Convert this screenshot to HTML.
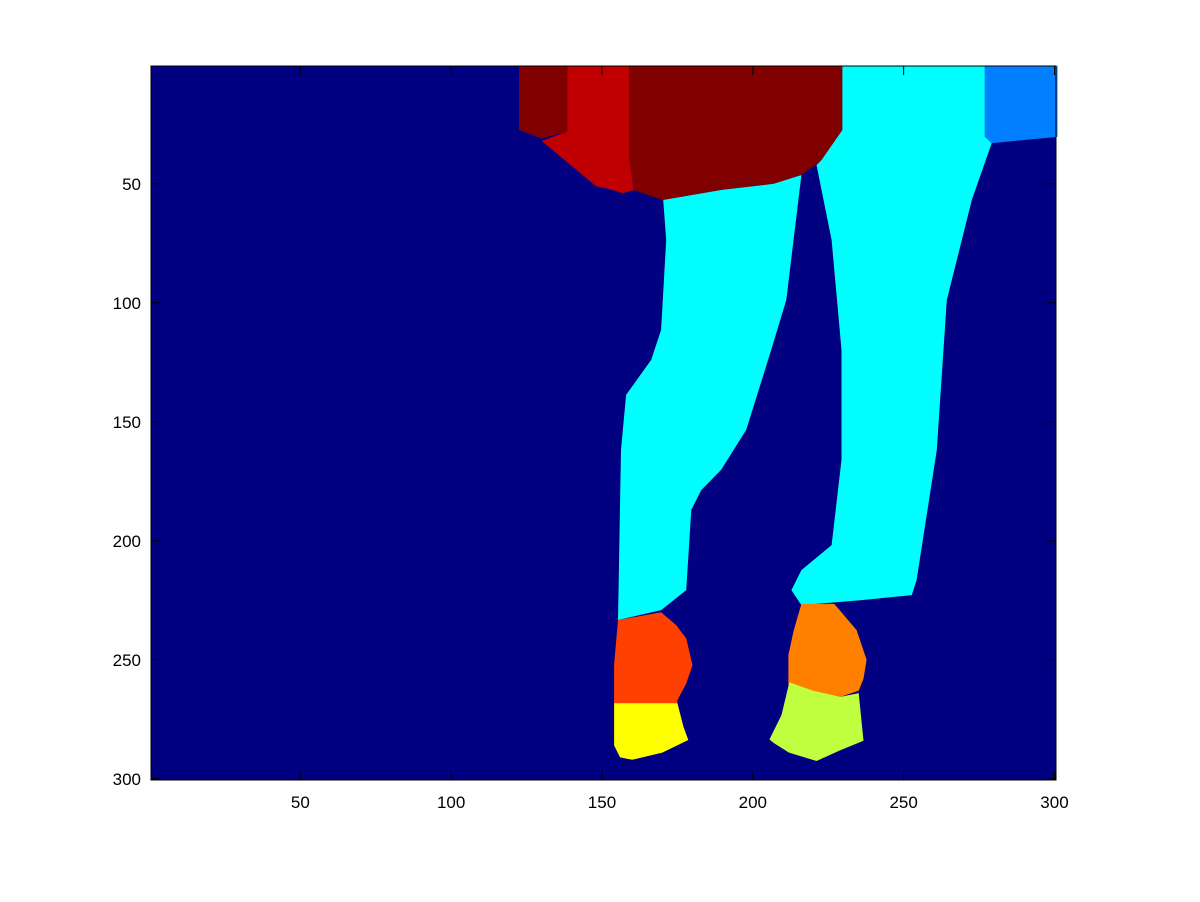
<!DOCTYPE html>
<html><head><meta charset="utf-8">
<style>
html,body{margin:0;padding:0;background:#fff;}
svg{display:block;font-family:"Liberation Sans",sans-serif;}
</style></head>
<body>
<svg id="chart" width="1200" height="902">
<rect x="0" y="0" width="1200" height="902" fill="#fff"/>
<g id="plot"></g>
<rect x="151" y="66" width="905" height="714" fill="none" stroke="#000" stroke-width="1"/>
<g id="xt"></g>
<g id="yt"></g>
</svg>
<script>
const xTicks=[50,100,150,200,250,300];
const yTicks=[50,100,150,200,250,300];
const regionNames=['shirt-left-dark','shirt-red','shirt-dark','sleeve-blue','legs-right-cyan','leg-left-cyan','shoe-left-red','sock-left-yellow','shoe-right-orange','sock-right-lime'];
const regionColors=['#800000','#c00000','#800000','#0080ff','#00ffff','#00ffff','#ff4000','#ffff00','#ff8000','#bfff40'];
const regionPolys=[
 [[122.5,0.5],[138.5,0.5],[138.5,28],[130,31],[122.5,27.4]],
 [[138.5,0.5],[159,0.5],[159,38.5],[160.5,52.6],[157,54],[152,52],[148,51],[130,32],[138.5,28]],
 [[159,0.5],[229.7,0.5],[229.7,27.4],[223,40],[216.5,46],[207,50],[190,52.5],[170.5,57],[160.5,52.6],[159,38.5]],
 [[276.9,0.5],[301,0.5],[301,30.3],[279.2,32.9],[276.9,30.3]],
 [[229.7,0.5],[276.9,0.5],[276.9,30.3],[279.2,32.9],[272.6,56.8],[264.3,98.8],[261,161.8],[254.3,216.5],[252.7,222.8],[236.1,224.9],[216.1,227],[212.8,220.7],[216.1,212.3],[226.1,201.8],[229.4,166],[229.4,119.8],[226.1,73.6],[221.1,42.1],[222.8,40],[229.7,27.4]],
 [[170.3,56.8],[190,52.5],[207,50],[216.1,46.3],[211.1,98.8],[206.1,119.8],[197.8,153.4],[189.5,170.2],[182.9,178.7],[179.6,187],[177.9,220.7],[169.6,229.1],[155.3,233.3],[156.3,161.8],[158,138.7],[166.3,124],[169.6,111.4],[171.3,73.6]],
 [[155.3,233.3],[169.6,230],[174.6,235.4],[177.9,241],[180,252.3],[177.9,260],[175,267],[175,268.2],[154,268.2],[154,252]],
 [[154,268.2],[175,268.2],[177,278],[178.6,283.7],[170,289],[160,292],[156,291],[154,286]],
 [[216.1,226.5],[227,226.5],[234.4,237.5],[237.7,250],[236.7,258],[235.1,263],[229,265.6],[216,263],[211.8,260.6],[211.8,248],[213.5,238]],
 [[212.1,259.5],[220,263],[229,265.6],[235.1,264],[236.7,284],[229,288],[221.1,292.5],[212,289],[207,285],[205.5,283.5],[209.5,273.2]]
];
const NS='http://www.w3.org/2000/svg';
const X0=151,Y0=66,W=905,H=714;
function sx(v){return X0+(v-0.5)/300*W;}
function sy(v){return Y0+(v-0.5)/300*H;}
const plot=document.getElementById('plot');
const bg=document.createElementNS(NS,'rect');
bg.setAttribute('x',X0);bg.setAttribute('y',Y0);bg.setAttribute('width',W);bg.setAttribute('height',H);bg.setAttribute('fill','#000080');


plot.appendChild(bg);
regionPolys.forEach((poly,i)=>{
 const p=document.createElementNS(NS,'polygon');
 p.setAttribute('points',poly.map(q=>sx(q[0]).toFixed(1)+','+sy(q[1]).toFixed(1)).join(' '));
 p.setAttribute('fill',regionColors[i]);
 
 
 plot.appendChild(p);
});
const xt=document.getElementById('xt'),yt=document.getElementById('yt');
xTicks.forEach(v=>{
 const x=sx(v);
 const l=document.createElementNS(NS,'path');
 l.setAttribute('d',`M${x},780v-9M${x},66v9`);l.setAttribute('stroke','#000');
 
 
 xt.appendChild(l);
 const t=document.createElementNS(NS,'text');
 t.setAttribute('x',x);t.setAttribute('y',808);t.setAttribute('text-anchor','middle');t.setAttribute('font-size','17');
 t.textContent=v;
 
 
 xt.appendChild(t);
});
yTicks.forEach(v=>{
 const y=sy(v);
 const l=document.createElementNS(NS,'path');
 l.setAttribute('d',`M151,${y}h9M1056,${y}h-9`);l.setAttribute('stroke','#000');
 
 
 yt.appendChild(l);
 const t=document.createElementNS(NS,'text');
 t.setAttribute('x',141);t.setAttribute('y',y+6);t.setAttribute('text-anchor','end');t.setAttribute('font-size','17');
 t.textContent=v;
 
 
 yt.appendChild(t);
});
</script>
</body></html>
